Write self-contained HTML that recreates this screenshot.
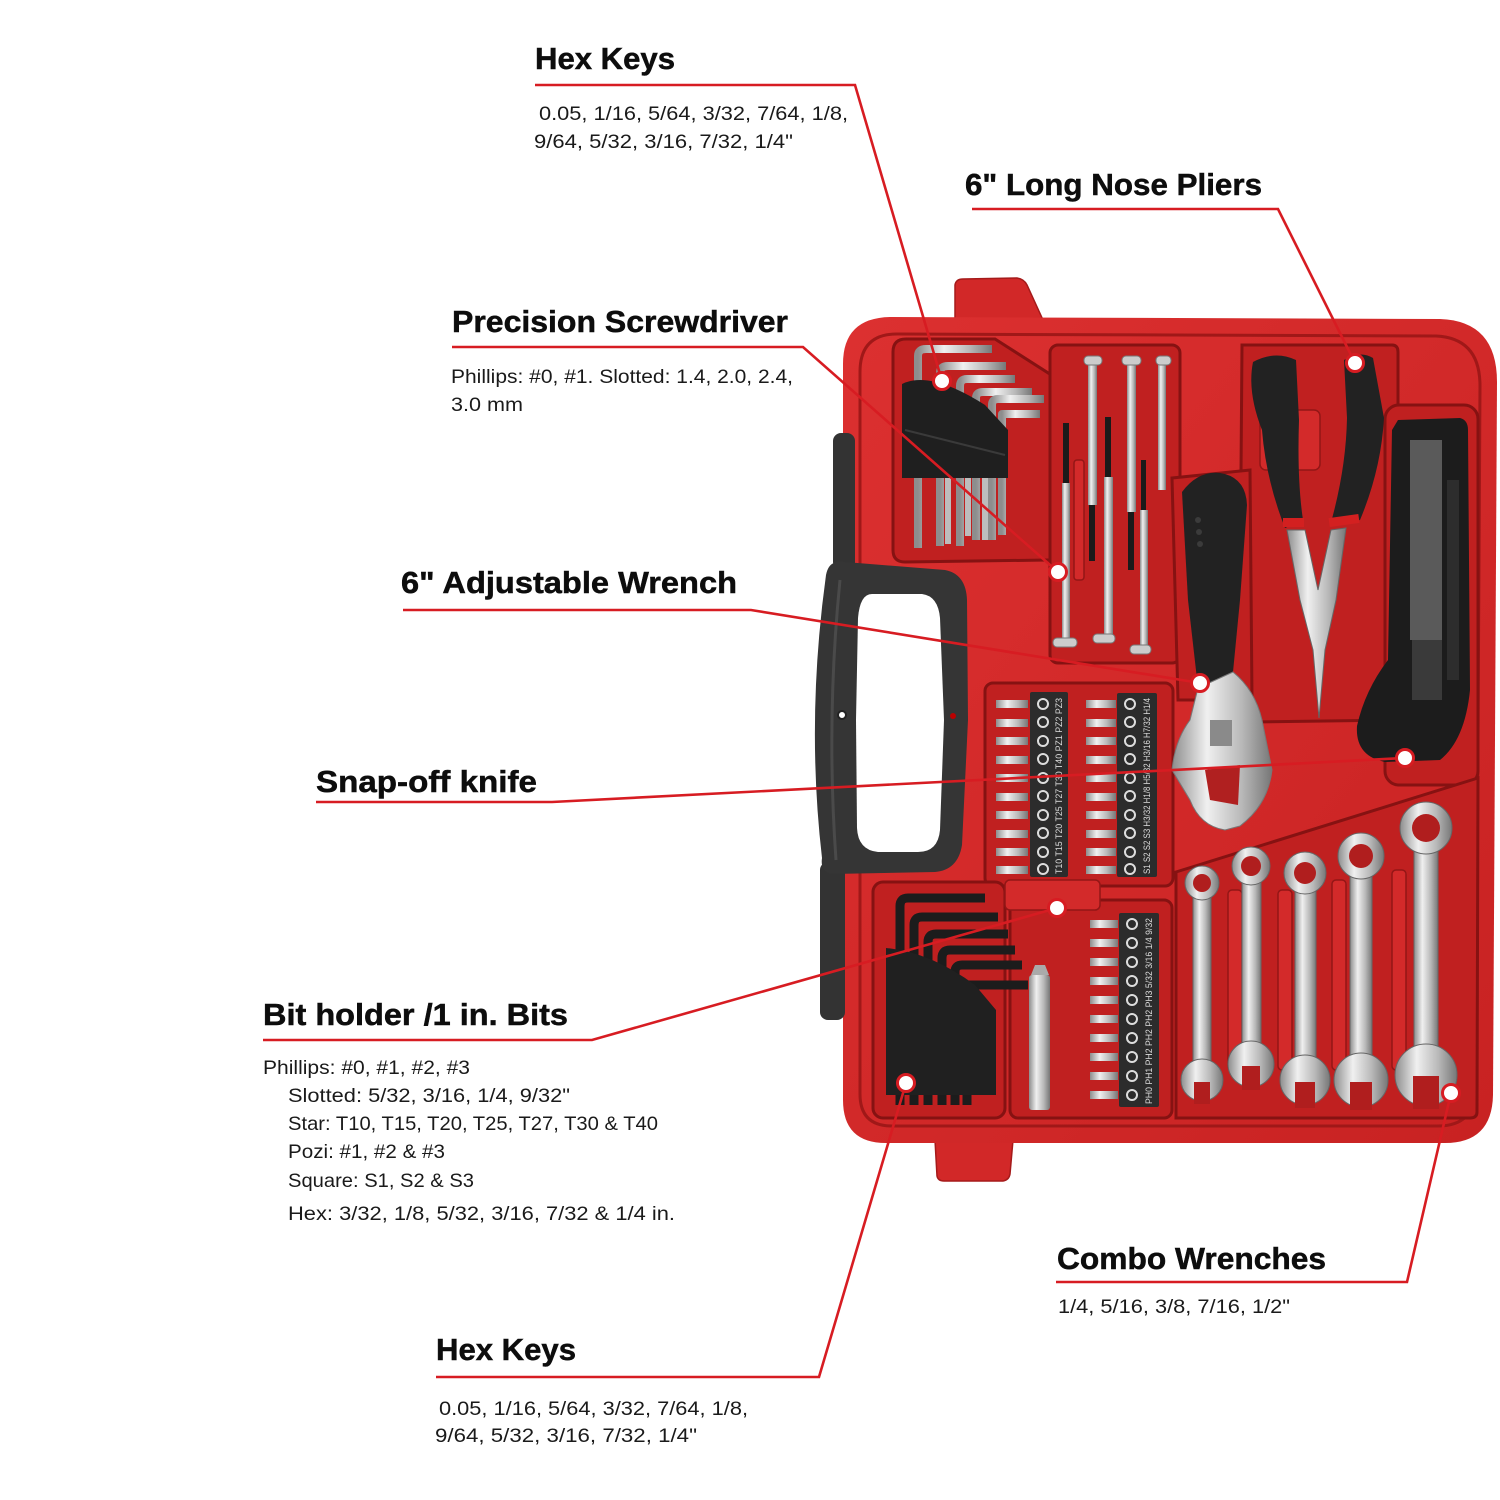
<!DOCTYPE html>
<html>
<head>
<meta charset="utf-8">
<style>
html,body{margin:0;padding:0;background:#fff;}
svg{display:block;}
.h{font-family:"Liberation Sans",Arial,sans-serif;font-weight:bold;font-size:31px;fill:#0d0d0d;stroke:#0d0d0d;stroke-width:0.5;}
.b{font-family:"Liberation Sans",Arial,sans-serif;font-size:19.5px;fill:#1a1a1a;}
.bt{font-family:"Liberation Sans",Arial,sans-serif;font-size:9px;fill:#ddd;}
</style>
</head>
<body>
<svg width="1500" height="1500" viewBox="0 0 1500 1500" xmlns="http://www.w3.org/2000/svg">
<defs>
  <linearGradient id="silv" x1="0" x2="1" y1="0" y2="0">
    <stop offset="0" stop-color="#8d8d8d"/>
    <stop offset="0.35" stop-color="#f0f0f0"/>
    <stop offset="0.7" stop-color="#b8b8b8"/>
    <stop offset="1" stop-color="#777"/>
  </linearGradient>
  <linearGradient id="redg" x1="0" x2="1" y1="0" y2="1">
    <stop offset="0" stop-color="#dc3030"/>
    <stop offset="1" stop-color="#c82222"/>
  </linearGradient>
</defs>
<rect width="1500" height="1500" fill="#fff"/>

<!-- tabs -->
<path d="M955 320 L955 285 Q956 279 963 279 L1017 278 Q1024 279 1027 285 L1043 320 Z" fill="#d22828" stroke="#a51a1a" stroke-width="1.5"/>
<path d="M935 1140 L937 1176 Q938 1181 944 1181 L1003 1181 Q1009 1180 1010 1174 L1013 1140 Z" fill="#d22828" stroke="#a51a1a" stroke-width="1.5"/>

<!-- case body -->
<path d="M843 364 Q843 317 892 317 L1440 319 Q1497 321 1497 382 L1493 1095 Q1492 1143 1445 1143 L886 1143 Q843 1143 843 1100 Z" fill="url(#redg)"/>
<path d="M860 372 Q860 334 897 334 L1436 336 Q1480 338 1480 386 L1476 1088 Q1475 1126 1438 1126 L892 1126 Q860 1126 860 1094 Z" fill="none" stroke="#a01818" stroke-width="3"/>

<!-- compartments -->
<g fill="#c02020" stroke="#861212" stroke-width="3">
  <path d="M893 352 Q893 339 906 339 L995 339 L1056 378 L1056 552 Q1056 560 1048 560 L905 562 Q893 562 893 550 Z"/>
  <rect x="1050" y="345" width="130" height="318" rx="8"/>
  <path d="M1242 345 L1392 345 Q1398 345 1398 352 L1398 720 L1252 722 L1240 600 Z"/>
  <path d="M1172 478 L1250 470 L1252 700 L1178 700 Z"/>
  <rect x="1385" y="405" width="93" height="380" rx="14"/>
  <rect x="985" y="683" width="188" height="203" rx="8"/>
  <rect x="873" y="882" width="132" height="236" rx="10"/>
  <rect x="1010" y="900" width="162" height="218" rx="8"/>
  <path d="M1176 872 L1478 778 L1477 1112 Q1477 1118 1470 1118 L1176 1118 Z"/>
</g>
<!-- raised dividers -->
<g fill="#d32a2a" stroke="#931616" stroke-width="1.5">
  <rect x="1005" y="880" width="95" height="30" rx="5"/>
  <rect x="1074" y="460" width="10" height="120" rx="3"/>
  <rect x="1260" y="410" width="60" height="60" rx="6"/>
  <rect x="1228" y="890" width="14" height="180" rx="4"/>
  <rect x="1278" y="890" width="14" height="180" rx="4"/>
  <rect x="1332" y="880" width="14" height="190" rx="4"/>
  <rect x="1392" y="870" width="14" height="200" rx="4"/>
</g>

<!-- handle -->
<rect x="833" y="433" width="22" height="137" rx="8" fill="#333"/>
<rect x="820" y="862" width="25" height="158" rx="8" fill="#333"/>
<path d="M834 563 Q838 560 845 562 L945 570 Q966 574 967 600 L968 720 L962 845 Q958 870 935 872 L832 874 Q820 872 822 858 Q806 720 826 575 Q828 565 834 563 Z" fill="#353535"/>
<path d="M872 594 L922 594 Q938 596 940 618 L944 720 L940 830 Q938 852 918 852 L878 852 Q858 850 857 828 L856 720 L858 618 Q860 594 872 594 Z" fill="#fff"/>
<path d="M840 580 Q826 720 836 860" fill="none" stroke="#4a4a4a" stroke-width="3"/>
<circle cx="842" cy="715" r="4" fill="#fff" stroke="#222" stroke-width="2"/>
<circle cx="953" cy="716" r="3" fill="#b00"/>

<!-- upper hex keys (silver) -->
<g fill="none" stroke="url(#silv)" stroke-width="8" stroke-linejoin="round">
  <path d="M918 548 L918 356 Q918 349 926 349 L992 349"/>
  <path d="M940 546 L940 373 Q940 366 948 366 L1006 366"/>
  <path d="M960 546 L960 386 Q960 379 967 379 L1015 379"/>
  <path d="M976 540 L976 398 Q976 392 983 392 L1032 392"/>
  <path d="M992 540 L992 405 Q992 399 998 399 L1044 399"/>
  <path d="M1002 535 L1002 414 L1040 414"/>
</g>
<g stroke="#bdbdbd" stroke-width="6">
  <line x1="948" y1="478" x2="948" y2="544"/>
  <line x1="968" y1="478" x2="968" y2="536"/>
  <line x1="985" y1="478" x2="985" y2="540"/>
</g>
<path d="M902 384 Q930 370 985 405 L1008 430 L1008 478 L902 478 Z" fill="#1f1f1f"/>
<path d="M905 430 L1005 455" stroke="#3a3a3a" stroke-width="2"/>

<!-- precision screwdrivers -->
<g>
  <rect x="1062" y="483" width="8" height="157" fill="url(#silv)"/><rect x="1063" y="423" width="6" height="60" fill="#1a1a1a"/><rect x="1053" y="638" width="24" height="9" rx="4" fill="#ccc" stroke="#777"/>
  <rect x="1088" y="365" width="9" height="140" fill="url(#silv)"/><rect x="1089" y="505" width="6" height="56" fill="#1a1a1a"/><rect x="1084" y="356" width="18" height="9" rx="4" fill="#ccc" stroke="#777"/>
  <rect x="1104" y="477" width="9" height="160" fill="url(#silv)"/><rect x="1105" y="417" width="6" height="60" fill="#1a1a1a"/><rect x="1093" y="634" width="22" height="9" rx="4" fill="#ccc" stroke="#777"/>
  <rect x="1127" y="365" width="9" height="147" fill="url(#silv)"/><rect x="1128" y="512" width="6" height="58" fill="#1a1a1a"/><rect x="1122" y="356" width="19" height="9" rx="4" fill="#ccc" stroke="#777"/>
  <rect x="1140" y="510" width="8" height="138" fill="url(#silv)"/><rect x="1141" y="460" width="5" height="50" fill="#1a1a1a"/><rect x="1130" y="645" width="21" height="9" rx="4" fill="#ccc" stroke="#777"/>
  <rect x="1158" y="365" width="8" height="125" fill="url(#silv)"/><rect x="1156" y="356" width="15" height="9" rx="4" fill="#ccc" stroke="#777"/>
</g>

<!-- pliers -->
<path d="M1253 362 Q1275 350 1296 360 L1299 420 Q1297 480 1303 520 L1285 528 Q1266 480 1262 430 Q1247 392 1253 362 Z" fill="#222"/>
<path d="M1344 360 Q1360 350 1373 358 L1384 418 Q1381 470 1360 520 L1330 526 Q1346 470 1347 418 Z" fill="#222"/>
<rect x="1283" y="518" width="21" height="9" fill="#d32020"/>
<rect x="1329" y="516" width="30" height="9" fill="#d32020" transform="rotate(-8 1344 520)"/>
<path d="M1287 530 L1305 530 L1318 590 L1331 530 L1346 528 L1336 600 L1325 650 L1319 718 L1313 650 L1300 600 Z" fill="url(#silv)" stroke="#666" stroke-width="1"/>

<!-- snap-off knife -->
<path d="M1398 420 L1460 418 Q1468 420 1468 430 L1470 690 Q1465 740 1440 760 L1385 762 Q1355 756 1357 726 Q1365 690 1388 660 L1392 430 Z" fill="#1c1c1c"/>
<rect x="1410" y="440" width="32" height="200" fill="#5a5a5a"/>
<rect x="1447" y="480" width="12" height="200" fill="#2d2d2d"/>
<rect x="1412" y="640" width="30" height="60" fill="#3a3a3a"/>

<!-- adjustable wrench -->
<path d="M1182 492 Q1200 468 1225 474 Q1246 480 1247 505 L1240 600 L1233 672 L1198 688 L1188 600 Z" fill="#222"/>
<g fill="#3b3b3b"><circle cx="1198" cy="520" r="3"/><circle cx="1199" cy="532" r="3"/><circle cx="1200" cy="544" r="3"/></g>
<path d="M1198 688 L1233 672 Q1255 690 1262 720 L1272 770 Q1268 805 1240 826 L1225 830 Q1200 826 1190 800 L1172 770 Q1175 740 1190 720 Z" fill="url(#silv)" stroke="#777" stroke-width="1"/>
<rect x="1210" y="720" width="22" height="26" fill="#8a8a8a"/>
<path d="M1205 770 L1240 765 L1238 805 L1210 800 Z" fill="#b02020"/>

<!-- bit strips -->
<g fill="url(#silv)">
  <rect x="996" y="700" width="32" height="8"/><rect x="996" y="719" width="32" height="8"/><rect x="996" y="737" width="32" height="8"/><rect x="996" y="756" width="32" height="8"/><rect x="996" y="774" width="32" height="8"/><rect x="996" y="793" width="32" height="8"/><rect x="996" y="811" width="32" height="8"/><rect x="996" y="830" width="32" height="8"/><rect x="996" y="848" width="32" height="8"/><rect x="996" y="866" width="32" height="8"/>
  <rect x="1086" y="700" width="30" height="8"/><rect x="1086" y="719" width="30" height="8"/><rect x="1086" y="737" width="30" height="8"/><rect x="1086" y="756" width="30" height="8"/><rect x="1086" y="774" width="30" height="8"/><rect x="1086" y="793" width="30" height="8"/><rect x="1086" y="811" width="30" height="8"/><rect x="1086" y="830" width="30" height="8"/><rect x="1086" y="848" width="30" height="8"/><rect x="1086" y="866" width="30" height="8"/>
  <rect x="1090" y="920" width="28" height="8"/><rect x="1090" y="939" width="28" height="8"/><rect x="1090" y="958" width="28" height="8"/><rect x="1090" y="977" width="28" height="8"/><rect x="1090" y="996" width="28" height="8"/><rect x="1090" y="1015" width="28" height="8"/><rect x="1090" y="1034" width="28" height="8"/><rect x="1090" y="1053" width="28" height="8"/><rect x="1090" y="1072" width="28" height="8"/><rect x="1090" y="1091" width="28" height="8"/>
</g>
<rect x="1030" y="692" width="38" height="185" rx="2" fill="#2c2c2c"/>
<rect x="1117" y="693" width="40" height="184" rx="2" fill="#2c2c2c"/>
<rect x="1119" y="913" width="40" height="194" rx="2" fill="#2c2c2c"/>
<g fill="none" stroke="#ddd" stroke-width="2">
  <circle cx="1043" cy="704" r="5"/><circle cx="1043" cy="722" r="5"/><circle cx="1043" cy="741" r="5"/><circle cx="1043" cy="759" r="5"/><circle cx="1043" cy="778" r="5"/><circle cx="1043" cy="796" r="5"/><circle cx="1043" cy="815" r="5"/><circle cx="1043" cy="833" r="5"/><circle cx="1043" cy="852" r="5"/><circle cx="1043" cy="869" r="5"/>
  <circle cx="1130" cy="704" r="5"/><circle cx="1130" cy="722" r="5"/><circle cx="1130" cy="741" r="5"/><circle cx="1130" cy="759" r="5"/><circle cx="1130" cy="778" r="5"/><circle cx="1130" cy="796" r="5"/><circle cx="1130" cy="815" r="5"/><circle cx="1130" cy="833" r="5"/><circle cx="1130" cy="852" r="5"/><circle cx="1130" cy="869" r="5"/>
  <circle cx="1132" cy="924" r="5"/><circle cx="1132" cy="943" r="5"/><circle cx="1132" cy="962" r="5"/><circle cx="1132" cy="981" r="5"/><circle cx="1132" cy="1000" r="5"/><circle cx="1132" cy="1019" r="5"/><circle cx="1132" cy="1038" r="5"/><circle cx="1132" cy="1057" r="5"/><circle cx="1132" cy="1076" r="5"/><circle cx="1132" cy="1095" r="5"/>
</g>
<text class="bt" transform="translate(1062 874) rotate(-90)" textLength="176" lengthAdjust="spacingAndGlyphs">T10 T15 T20 T25 T27 T30 T40 PZ1 PZ2 PZ3</text>
<text class="bt" transform="translate(1150 874) rotate(-90)" textLength="176" lengthAdjust="spacingAndGlyphs">S1 S2 S2 S3 H3/32 H1/8 H5/32 H3/16 H7/32 H1/4</text>
<text class="bt" transform="translate(1152 1104) rotate(-90)" textLength="186" lengthAdjust="spacingAndGlyphs">PH0 PH1 PH2 PH2 PH2 PH3 5/32 3/16 1/4 9/32</text>

<!-- bit holder -->
<rect x="1029" y="975" width="21" height="135" rx="3" fill="url(#silv)"/>
<path d="M1031 975 L1035 965 L1045 965 L1049 975 Z" fill="#aaa"/>

<!-- lower hex keys (black) -->
<g fill="none" stroke="#1c1c1c" stroke-width="9" stroke-linejoin="round">
  <path d="M900 1105 L900 906 Q900 898 908 898 L985 898"/>
  <path d="M914 1105 L914 925 Q914 917 922 917 L998 917"/>
  <path d="M928 1105 L928 942 Q928 934 936 934 L1008 934"/>
  <path d="M942 1105 L942 958 Q942 950 950 950 L1015 950"/>
  <path d="M955 1105 L955 972 Q955 965 962 965 L1022 965"/>
  <path d="M967 1105 L967 985 L1028 985"/>
</g>
<path d="M886 948 Q930 952 975 985 L996 1010 L996 1095 L886 1095 Z" fill="#202020"/>

<!-- combo wrenches -->
<g fill="url(#silv)" stroke="#666" stroke-width="1">
  <rect x="1193" y="895" width="18" height="170"/>
  <circle cx="1202" cy="883" r="17"/>
  <circle cx="1202" cy="1080" r="21"/>
  <rect x="1242" y="880" width="19" height="170"/>
  <circle cx="1251" cy="866" r="19"/>
  <circle cx="1251" cy="1064" r="23"/>
  <rect x="1295" y="888" width="21" height="175"/>
  <circle cx="1305" cy="873" r="21"/>
  <circle cx="1305" cy="1080" r="25"/>
  <rect x="1350" y="872" width="22" height="190"/>
  <circle cx="1361" cy="856" r="23"/>
  <circle cx="1361" cy="1080" r="27"/>
  <rect x="1414" y="848" width="24" height="210"/>
  <circle cx="1426" cy="828" r="26"/>
  <circle cx="1426" cy="1075" r="31"/>
</g>
<g fill="#b01e1e">
  <circle cx="1202" cy="883" r="9"/><rect x="1194" y="1082" width="16" height="22"/>
  <circle cx="1251" cy="866" r="10"/><rect x="1242" y="1066" width="18" height="24"/>
  <circle cx="1305" cy="873" r="11"/><rect x="1295" y="1082" width="20" height="26"/>
  <circle cx="1361" cy="856" r="12"/><rect x="1350" y="1082" width="22" height="28"/>
  <circle cx="1426" cy="828" r="14"/><rect x="1413" y="1076" width="26" height="33"/>
</g>

<!-- leader lines -->
<g fill="none" stroke="#d71c22" stroke-width="2.6" stroke-linejoin="miter">
  <path d="M535 85 L855 85 L942 381"/>
  <path d="M972 209 L1278 209 L1355 363"/>
  <path d="M452 347 L803 347 L1058 572"/>
  <path d="M403 610 L751 610 L1200 683"/>
  <path d="M316 802 L552 802 L1405 758"/>
  <path d="M263 1040 L592 1040 L1057 908"/>
  <path d="M1056 1282 L1407 1282 L1451 1093"/>
  <path d="M436 1377 L819 1377 L906 1083"/>
</g>
<g fill="#fff" stroke="#d71c22" stroke-width="3">
  <circle cx="942" cy="381" r="8.5"/>
  <circle cx="1355" cy="363" r="8.5"/>
  <circle cx="1058" cy="572" r="8.5"/>
  <circle cx="1200" cy="683" r="8.5"/>
  <circle cx="1405" cy="758" r="8.5"/>
  <circle cx="1057" cy="908" r="8.5"/>
  <circle cx="1451" cy="1093" r="8.5"/>
  <circle cx="906" cy="1083" r="8.5"/>
</g>

<!-- headings -->
<text class="h" x="535" y="69" textLength="140" lengthAdjust="spacingAndGlyphs">Hex Keys</text>
<text class="h" x="965" y="195" textLength="297" lengthAdjust="spacingAndGlyphs">6" Long Nose Pliers</text>
<text class="h" x="452" y="332" textLength="336" lengthAdjust="spacingAndGlyphs">Precision Screwdriver</text>
<text class="h" x="401" y="593" textLength="336" lengthAdjust="spacingAndGlyphs">6" Adjustable Wrench</text>
<text class="h" x="316" y="792" textLength="221" lengthAdjust="spacingAndGlyphs">Snap-off knife</text>
<text class="h" x="263" y="1025" textLength="305" lengthAdjust="spacingAndGlyphs">Bit holder /1 in. Bits</text>
<text class="h" x="1057" y="1269" textLength="269" lengthAdjust="spacingAndGlyphs">Combo Wrenches</text>
<text class="h" x="436" y="1360" textLength="140" lengthAdjust="spacingAndGlyphs">Hex Keys</text>

<!-- body text -->
<text class="b" x="539" y="120" textLength="309" lengthAdjust="spacingAndGlyphs">0.05, 1/16, 5/64, 3/32, 7/64, 1/8,</text>
<text class="b" x="534" y="148" textLength="259" lengthAdjust="spacingAndGlyphs">9/64, 5/32, 3/16, 7/32, 1/4"</text>
<text class="b" x="451" y="383" textLength="342" lengthAdjust="spacingAndGlyphs">Phillips: #0, #1. Slotted: 1.4, 2.0, 2.4,</text>
<text class="b" x="451" y="411" textLength="72" lengthAdjust="spacingAndGlyphs">3.0 mm</text>
<text class="b" x="263" y="1074" textLength="207" lengthAdjust="spacingAndGlyphs">Phillips: #0, #1, #2, #3</text>
<text class="b" x="288" y="1102" textLength="282" lengthAdjust="spacingAndGlyphs">Slotted: 5/32, 3/16, 1/4, 9/32"</text>
<text class="b" x="288" y="1130" textLength="370" lengthAdjust="spacingAndGlyphs">Star: T10, T15, T20, T25, T27, T30 &amp; T40</text>
<text class="b" x="288" y="1158" textLength="157" lengthAdjust="spacingAndGlyphs">Pozi: #1, #2 &amp; #3</text>
<text class="b" x="288" y="1187" textLength="186" lengthAdjust="spacingAndGlyphs">Square: S1, S2 &amp; S3</text>
<text class="b" x="288" y="1220" textLength="387" lengthAdjust="spacingAndGlyphs">Hex: 3/32, 1/8, 5/32, 3/16, 7/32 &amp; 1/4 in.</text>
<text class="b" x="1058" y="1313" textLength="232" lengthAdjust="spacingAndGlyphs">1/4, 5/16, 3/8, 7/16, 1/2"</text>
<text class="b" x="439" y="1415" textLength="309" lengthAdjust="spacingAndGlyphs">0.05, 1/16, 5/64, 3/32, 7/64, 1/8,</text>
<text class="b" x="435" y="1442" textLength="262" lengthAdjust="spacingAndGlyphs">9/64, 5/32, 3/16, 7/32, 1/4"</text>
</svg>
</body>
</html>
